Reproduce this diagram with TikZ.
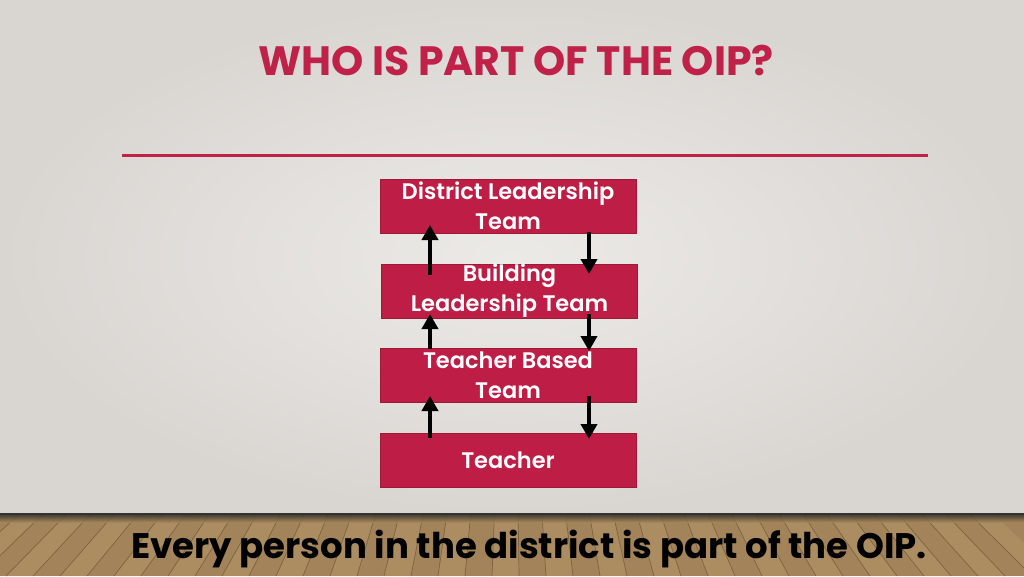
\documentclass[tikz,border=0pt]{standalone}
\usepackage{fontspec}
\setmainfont{Poppins}
\newfontfamily\semib{Poppins SemiBold}
\usetikzlibrary{arrows.meta}
\definecolor{bgin}{HTML}{ECEAE7}
\definecolor{bgout}{HTML}{D9D6D2}
\definecolor{crim}{HTML}{BF2148}
\definecolor{boxfill}{HTML}{BE1E45}
\definecolor{boxedge}{HTML}{9E1838}
\definecolor{floor}{HTML}{A3845A}
\definecolor{floorlight}{HTML}{BFA070}
\definecolor{plank}{HTML}{6B5232}
\tikzset{
  orgbox/.style={draw=boxedge, line width=0.8pt, fill=boxfill, minimum width=256pt, minimum height=54pt, inner sep=0pt, text=white, align=center, font=\semib\fontsize{22.5}{30}\selectfont},
  flowarrow/.style={line width=4.4pt, -{Triangle[width=16pt,length=15pt]}}
}
\begin{document}
\begin{tikzpicture}[x=1pt,y=-1pt]
\useasboundingbox (0,0) rectangle (1024,576);
% background
\shade[inner color=bgin, outer color=bgout] (0,0) rectangle (1024,514);
% floor
\fill[floor] (0,514) rectangle (1024,576);
\foreach \i in {0,2,...,40}{
  \fill[floorlight, opacity=0.35] ({512+(\i*27-560)*0.88},514) -- ({512+(\i*27-533)*0.88},514) -- ({512+(\i*27-533)},576) -- ({512+(\i*27-560)},576) -- cycle;
}
\foreach \i in {0,...,40}{
  \draw[plank, line width=0.7pt, opacity=0.7] ({512+(\i*27-560)*0.88},514) -- ({512+(\i*27-560)},576);
}
\shade[top color=black!85, bottom color=floor, opacity=0.8] (0,514) rectangle (1024,522);
\draw[black!80, line width=1.2pt] (0,514) -- (1024,514);
% title
\node[text=crim, font=\bfseries\fontsize{41}{50}\selectfont, anchor=base] (title) at (516,75) {WHO IS PART OF THE OIP?};
\coordinate (ruleL) at (122,155);
\coordinate (ruleR) at (928,155);
\draw[crim, line width=3pt] (ruleL) -- (ruleR);
% boxes
\node[orgbox] (dlt) at (508,206) {District Leadership\\Team};
\node[orgbox] (blt) at (509.5,291) {Building\\Leadership Team};
\node[orgbox] (tbt) at (508,375) {Teacher Based\\Team};
\node[orgbox] (tch) at (508,460) {Teacher};
% arrows
\coordinate (u1s) at (430,275); \coordinate (u1e) at (430,225);
\coordinate (d1s) at (589,232); \coordinate (d1e) at (589,274);
\coordinate (u2s) at (430,349); \coordinate (u2e) at (430,314);
\coordinate (d2s) at (589,314); \coordinate (d2e) at (589,351);
\coordinate (u3s) at (430,438); \coordinate (u3e) at (430,396);
\coordinate (d3s) at (589,396); \coordinate (d3e) at (589,439);
\draw[flowarrow] (u1s) -- (u1e);
\draw[flowarrow] (d1s) -- (d1e);
\draw[flowarrow] (u2s) -- (u2e);
\draw[flowarrow] (d2s) -- (d2e);
\draw[flowarrow] (u3s) -- (u3e);
\draw[flowarrow] (d3s) -- (d3e);
% bottom text
\node[text=black, font=\bfseries\fontsize{35.5}{40}\selectfont, anchor=base] (foot) at (529,558) {Every person in the district is part of the OIP.};
\end{tikzpicture}
\end{document}
